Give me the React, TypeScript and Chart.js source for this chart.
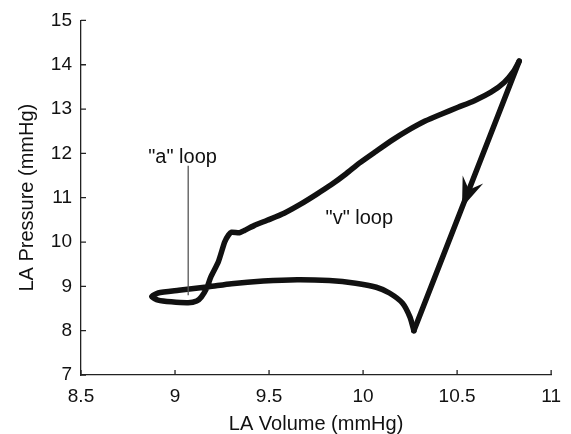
import React, { useEffect, useRef } from "react";
import { Chart, registerables } from "chart.js";

Chart.register(...registerables);

// Closed pressure-volume trajectory: from the cusp, left along the lower curve,
// around the "a" loop, then up the upper curve to the peak.
const loopVolume = [
  10.27, 10.25, 10.21, 10.14, 10.07, 9.96, 9.82, 9.65, 9.47, 9.3, 9.18, 9.02, 8.91, 8.876,
  8.91, 8.98, 9.07, 9.115, 9.14, 9.17, 9.19, 9.23, 9.264, 9.285, 9.3, 9.343, 9.369,
  9.42, 9.49, 9.58, 9.67, 9.75, 9.83, 9.91, 9.98, 10.07, 10.155, 10.243, 10.33, 10.418,
  10.505, 10.592, 10.68, 10.75, 10.8, 10.83,
];
const loopPressure = [
  8.0, 8.3, 8.62, 8.85, 8.98, 9.07, 9.13, 9.15, 9.12, 9.06, 8.99, 8.91, 8.85, 8.77,
  8.69, 8.65, 8.63, 8.67, 8.76, 8.97, 9.21, 9.55, 10.0, 10.16, 10.22, 10.21, 10.26,
  10.37, 10.49, 10.65, 10.86, 11.07, 11.29, 11.54, 11.78, 12.05, 12.3, 12.53, 12.73, 12.89,
  13.04, 13.19, 13.38, 13.6, 13.85, 14.08,
];
// Straight fall from the peak back to the cusp
const fallVolume = [10.83, 10.27];
const fallPressure = [14.08, 8.0];
// Leader line for the "a" loop label
const leaderVolume = [9.07, 9.07];
const leaderPressure = [11.72, 8.8];
// Arrow head on the fall
const arrowVolume = [10.526];
const arrowPressure = [10.78];
// Annotation texts
const labelTexts = ['"a" loop', '"v" loop'];
const labelVolume = [9.04, 9.98];
const labelPressure = [11.79, 10.41];
// Axis ticks
const xTickValues = [8.5, 9, 9.5, 10, 10.5, 11];
const yTickValues = [7, 8, 9, 10, 11, 12, 13, 14, 15];

const FONT = "'Liberation Sans', Arial, Helvetica, sans-serif";
const INK = "#111111";
const AXIS = "#222222";

const decorPlugin = {
  id: "decor",
  afterDatasetsDraw(chart: any) {
    const { ctx, scales } = chart;
    const xs = scales.x;
    const ys = scales.y;
    const px0 = xs.getPixelForValue(fallVolume[0]);
    const py0 = ys.getPixelForValue(fallPressure[0]);
    const px1 = xs.getPixelForValue(fallVolume[1]);
    const py1 = ys.getPixelForValue(fallPressure[1]);
    let dx = px1 - px0;
    let dy = py1 - py0;
    const len = Math.hypot(dx, dy);
    dx /= len;
    dy /= len;
    const nx = -dy;
    const ny = dx;
    ctx.save();
    ctx.fillStyle = INK;
    for (let i = 0; i < arrowVolume.length; i++) {
      const tx = xs.getPixelForValue(arrowVolume[i]);
      const ty = ys.getPixelForValue(arrowPressure[i]);
      const L = 30;
      const W = 11;
      const N = 19;
      ctx.beginPath();
      ctx.moveTo(tx, ty);
      ctx.lineTo(tx - dx * L + nx * W, ty - dy * L + ny * W);
      ctx.lineTo(tx - dx * N, ty - dy * N);
      ctx.lineTo(tx - dx * L - nx * W, ty - dy * L - ny * W);
      ctx.closePath();
      ctx.fill();
    }
    ctx.font = `20px ${FONT}`;
    ctx.textAlign = "center";
    ctx.textBaseline = "alphabetic";
    for (let i = 0; i < labelTexts.length; i++) {
      ctx.fillText(
        labelTexts[i],
        xs.getPixelForValue(labelVolume[i]),
        ys.getPixelForValue(labelPressure[i])
      );
    }
    ctx.restore();
  },
  afterDraw(chart: any) {
    const { ctx, scales, chartArea } = chart;
    const xs = scales.x;
    const ys = scales.y;
    ctx.save();
    ctx.strokeStyle = AXIS;
    ctx.lineWidth = 1.3;
    ctx.beginPath();
    for (const v of xTickValues) {
      const p = xs.getPixelForValue(v);
      ctx.moveTo(p, chartArea.bottom);
      ctx.lineTo(p, chartArea.bottom - 5);
    }
    for (const v of yTickValues) {
      const p = ys.getPixelForValue(v);
      ctx.moveTo(chartArea.left, p);
      ctx.lineTo(chartArea.left + 5, p);
    }
    ctx.stroke();
    ctx.restore();
  },
};

export default function App() {
  const canvasRef = useRef<HTMLCanvasElement | null>(null);

  useEffect(() => {
    document.body.style.margin = "0";
    const canvas = canvasRef.current;
    if (!canvas) return;
    const toPts = (xs: number[], ys: number[]) => xs.map((x, i) => ({ x, y: ys[i] }));
    const chart = new Chart(canvas, {
      type: "scatter",
      data: {
        datasets: [
          {
            data: toPts(leaderVolume, leaderPressure),
            showLine: true,
            borderColor: "#555555",
            borderWidth: 1.3,
            pointRadius: 0,
          },
          {
            data: toPts(loopVolume, loopPressure),
            showLine: true,
            borderColor: INK,
            borderWidth: 5.5,
            tension: 0.2,
            borderCapStyle: "round",
            borderJoinStyle: "round",
            pointRadius: 0,
          },
          {
            data: toPts(fallVolume, fallPressure),
            showLine: true,
            borderColor: INK,
            borderWidth: 5.5,
            borderCapStyle: "round",
            borderJoinStyle: "round",
            pointRadius: 0,
          },
        ],
      },
      options: {
        responsive: false,
        animation: false,
        events: [],
        layout: { padding: { top: 19, right: 13, left: 0, bottom: 0 } },
        plugins: {
          legend: { display: false },
          tooltip: { enabled: false },
        },
        scales: {
          x: {
            type: "linear",
            min: 8.5,
            max: 11,
            afterBuildTicks: (scale: any) => {
              scale.ticks = xTickValues.map((value) => ({ value }));
            },
            afterFit: (scale: any) => {
              scale.height = 59;
            },
            grid: { display: false, drawTicks: false },
            border: { display: true, color: AXIS, width: 1.3 },
            ticks: {
              color: INK,
              padding: 10,
              maxRotation: 0,
              autoSkip: false,
              font: { family: FONT, size: 19 },
              callback: (v: any) => String(v),
            },
            title: {
              display: true,
              text: "LA Volume (mmHg)",
              color: INK,
              font: { family: FONT, size: 20, lineHeight: 1 },
              padding: { top: 0, bottom: 0 },
            },
          },
          y: {
            type: "linear",
            min: 7,
            max: 15,
            afterBuildTicks: (scale: any) => {
              scale.ticks = yTickValues.map((value) => ({ value }));
            },
            afterFit: (scale: any) => {
              scale.width = 81;
            },
            grid: { display: false, drawTicks: false },
            border: { display: true, color: AXIS, width: 1.3 },
            ticks: {
              color: INK,
              padding: 9,
              autoSkip: false,
              font: { family: FONT, size: 19 },
              callback: (v: any) => String(v),
            },
            title: {
              display: true,
              text: "LA Pressure (mmHg)",
              color: INK,
              font: { family: FONT, size: 20, lineHeight: 1 },
              padding: { top: 17, bottom: 0 },
            },
          },
        },
      },
      plugins: [decorPlugin],
    });
    return () => chart.destroy();
  }, []);

  return (
    <div style={{ position: "absolute", left: 0, top: 0, width: 571, height: 434, background: "#fff" }}>
      <canvas ref={canvasRef} width={571} height={434} />
    </div>
  );
}
